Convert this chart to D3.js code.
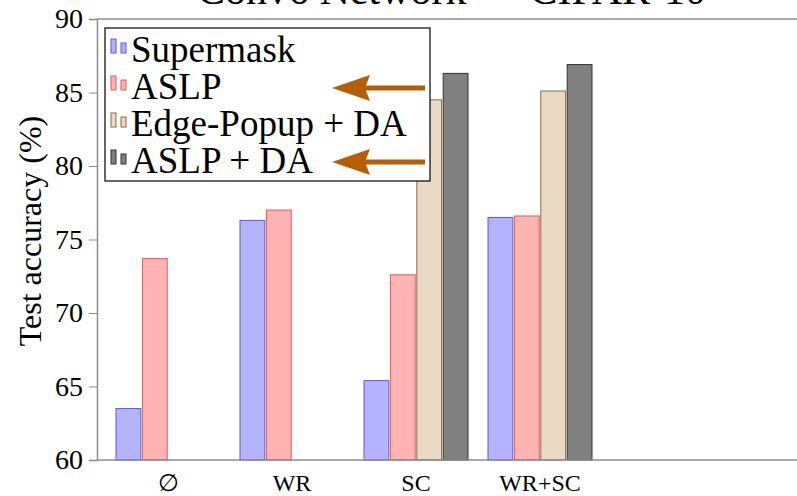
<!DOCTYPE html>
<html>
<head>
<meta charset="utf-8">
<script src="https://cdn.jsdelivr.net/npm/d3@7"></script>
<style>
  body { margin: 0; background: #fff; }
  svg { display: block; font-family: "Liberation Serif", "DejaVu Serif", serif; }
</style>
</head>
<body>
<div id="chart"></div>
<script>
var categories = ["\u2205", "WR", "SC", "WR+SC"];
var seriesNames = ["Supermask", "ASLP", "Edge-Popup + DA", "ASLP + DA"];
var supermask = [63.5, 76.3, 65.4, 76.5];
var aslp = [73.7, 77.0, 72.6, 76.6];
var edgePopupDA = [null, null, 84.5, 85.1];
var aslpDA = [null, null, 86.3, 86.9];
var yTicks = [60, 65, 70, 75, 80, 85, 90];
var arrowRows = [1, 3]; // legend rows that get an arrow

var fills = ["#b3b3ff", "#ffb3b3", "#ead9c4", "#808080"];
var strokes = ["#5a5ae0", "#e05a5a", "#8c6a48", "#333333"];

var width = 797, height = 496;
var plotLeft = 97, plotTop = 19, plotBottom = 460;

var svg = d3.select("#chart").append("svg")
    .attr("width", width)
    .attr("height", height);

var yScale = d3.scaleLinear().domain([60, 90]).range([plotBottom, plotTop]);
var xGroup = d3.scaleBand().domain(categories).range([106, 602]);
var xInner = d3.scaleBand().domain(seriesNames).range([0, 104]).paddingInner(0.06);

var allSeries = [supermask, aslp, edgePopupDA, aslpDA];
var bars = [];
allSeries.forEach(function(vals, si) {
    vals.forEach(function(v, ci) {
        if (v !== null) bars.push({ s: si, c: categories[ci], v: v });
    });
});

// title (cut off at top of image, as in the original)
svg.append("text")
    .attr("x", 197)
    .attr("y", 4)
    .attr("font-size", 42)
    .attr("fill", "#000")
    .text("Conv6 Network \u2014 CIFAR-10");

svg.append("line")
    .attr("x1", plotLeft).attr("x2", width)
    .attr("y1", plotTop).attr("y2", plotTop)
    .attr("stroke", "#8c8c8c").attr("stroke-width", 1.5);

svg.selectAll(".bar")
    .data(bars)
    .enter()
    .append("rect")
    .attr("class", "bar")
    .attr("x", function(d) { return xGroup(d.c) + (xGroup.bandwidth() - 104) / 2 + xInner(seriesNames[d.s]); })
    .attr("width", xInner.bandwidth())
    .attr("y", function(d) { return yScale(d.v); })
    .attr("height", function(d) { return plotBottom - yScale(d.v); })
    .attr("fill", function(d) { return fills[d.s]; })
    .attr("stroke", function(d) { return strokes[d.s]; })
    .attr("stroke-width", 1);

var yAxis = d3.axisLeft(yScale).tickValues(yTicks).tickSize(8).tickPadding(6);
var gy = svg.append("g")
    .attr("transform", "translate(" + plotLeft + ",0)")
    .call(yAxis);
gy.select(".domain").attr("stroke", "#8c8c8c").attr("stroke-width", 1.5);
gy.selectAll(".tick line").attr("stroke", "#8c8c8c");
gy.selectAll(".tick text")
    .attr("font-family", "Liberation Serif")
    .attr("font-size", 28)
    .attr("fill", "#000");

svg.append("line")
    .attr("x1", plotLeft).attr("x2", width)
    .attr("y1", plotBottom).attr("y2", plotBottom)
    .attr("stroke", "#8c8c8c").attr("stroke-width", 1.5);

svg.selectAll(".xlabel")
    .data(categories)
    .enter()
    .append("text")
    .attr("class", "xlabel")
    .attr("x", function(d) { return xGroup(d) + xGroup.bandwidth() / 2; })
    .attr("y", 491)
    .attr("text-anchor", "middle")
    .attr("font-size", 24)
    .text(function(d) { return d; });

svg.append("text")
    .attr("transform", "translate(41,231) rotate(-90)")
    .attr("text-anchor", "middle")
    .attr("font-size", 32)
    .text("Test accuracy (%)");

// legend
var legend = svg.append("g");
legend.append("rect")
    .attr("x", 105).attr("y", 28)
    .attr("width", 325).attr("height", 153)
    .attr("fill", "#fff")
    .attr("stroke", "#000")
    .attr("stroke-width", 1.2);

var rowY = d3.scalePoint().domain(d3.range(4)).range([53, 164]);

var rows = legend.selectAll(".lrow")
    .data(seriesNames)
    .enter()
    .append("g")
    .attr("class", "lrow")
    .attr("transform", function(d, i) { return "translate(0," + rowY(i) + ")"; });

rows.append("rect")
    .attr("x", 111).attr("y", -14).attr("width", 5).attr("height", 14)
    .attr("fill", function(d, i) { return fills[i]; })
    .attr("stroke", function(d, i) { return strokes[i]; });
rows.append("rect")
    .attr("x", 121).attr("y", -10).attr("width", 5).attr("height", 10)
    .attr("fill", function(d, i) { return fills[i]; })
    .attr("stroke", function(d, i) { return strokes[i]; });
rows.append("text")
    .attr("x", 131).attr("y", 9)
    .attr("font-size", 37)
    .text(function(d) { return d; });

// arrows
var arrowColor = "#b45f06";
arrowRows.forEach(function(r) {
    var cy = rowY(r) - 2;
    var g = legend.append("g");
    g.append("line")
        .attr("x1", 425).attr("x2", 362)
        .attr("y1", cy).attr("y2", cy)
        .attr("stroke", arrowColor)
        .attr("stroke-width", 5);
    g.append("path")
        .attr("d", d3.line()([[332, cy], [370, cy - 13], [365, cy], [370, cy + 13]]) + "Z")
        .attr("fill", arrowColor);
});
</script>
</body>
</html>
